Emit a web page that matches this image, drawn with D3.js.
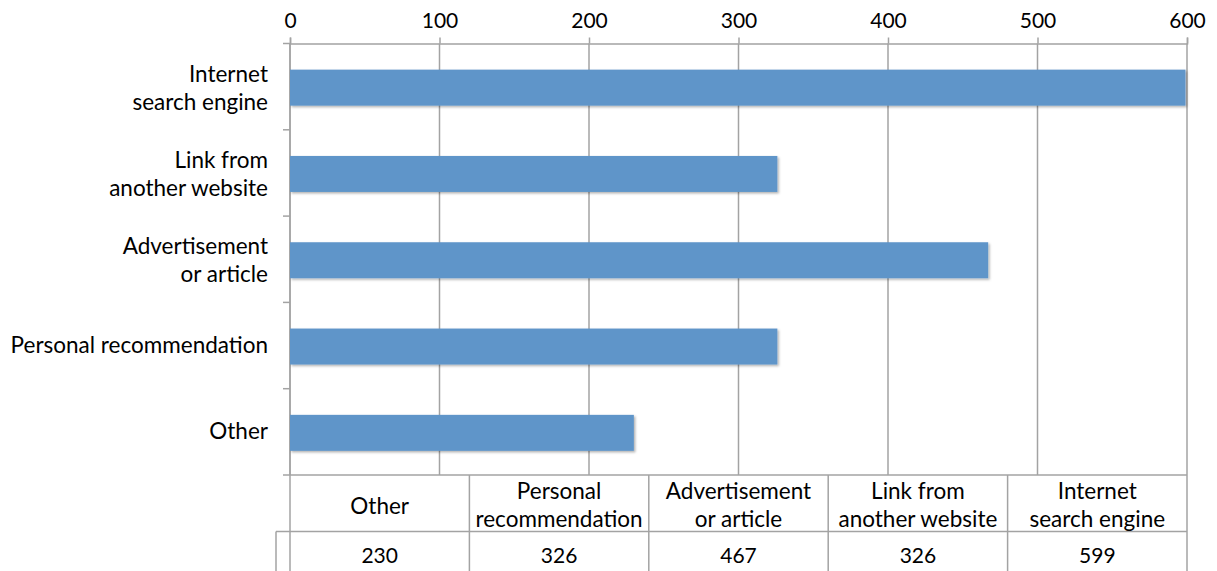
<!DOCTYPE html>
<html>
<head>
<meta charset="utf-8">
<script src="https://cdn.jsdelivr.net/npm/d3@7"></script>
<style>
  html, body { margin: 0; padding: 0; background: #fff; }
  svg { display: block; }
  text { font-family: Lato, "Open Sans", sans-serif; fill: #000; }
</style>
</head>
<body>
<svg id="chart" width="1217" height="571"></svg>
<script>
// Categories in data-table order (left to right); bars are drawn bottom to top.
const categories = ["Other", "Personal recommendation", "Advertisement or article", "Link from another website", "Internet search engine"];
const values = [230, 326, 467, 326, 599];
// Line breaks used for the axis labels and the table header.
const axisLabelLines = [["Other"], ["Personal recommendation"], ["Advertisement", "or article"], ["Link from", "another website"], ["Internet", "search engine"]];
const tableLabelLines = [["Other"], ["Personal", "recommendation"], ["Advertisement", "or article"], ["Link from", "another website"], ["Internet", "search engine"]];
const tickValues = [0, 100, 200, 300, 400, 500, 600];

const svg = d3.select("#chart");
const gridColor = "#a3a3a3";
const barColor = "#5f95c9";

const plotLeft = 290, plotRight = 1187, plotTop = 43.5, plotBottom = 475;
const numSize = 21;     // numbers on the axis and in the table
const labelSize = 22.5; // category names

const x = d3.scaleLinear().domain([0, 600]).range([plotLeft, plotRight]);
// Bars are listed top-down in reverse order of the table.
const y = d3.scaleBand().domain(categories.slice().reverse()).range([plotTop, plotBottom]);
const col = d3.scaleBand().domain(categories).range([plotLeft, plotRight]);

// Subtle drop shadow behind the bars
const defs = svg.append("defs");
const f = defs.append("filter").attr("id", "shadow").attr("x", "-5%").attr("y", "-20%").attr("width", "110%").attr("height", "150%");
f.append("feDropShadow").attr("dx", 1.5).attr("dy", 1.5).attr("stdDeviation", 1.2).attr("flood-color", "#000").attr("flood-opacity", 0.3);

// Vertical gridlines
svg.append("g").selectAll("line").data(tickValues).join("line")
  .attr("x1", d => x(d)).attr("x2", d => x(d))
  .attr("y1", plotTop).attr("y2", plotBottom)
  .attr("stroke", gridColor).attr("stroke-width", 1.5);

// Top value axis
const xAxis = svg.append("g").attr("transform", `translate(0,${plotTop})`)
  .call(d3.axisTop(x).tickValues(tickValues).tickSize(6).tickPadding(10).tickFormat(d3.format("d")));
xAxis.select(".domain").attr("stroke", gridColor).attr("stroke-width", 1.5);
xAxis.selectAll(".tick line").attr("stroke", gridColor).attr("stroke-width", 1.5);
xAxis.selectAll(".tick text").style("font-family", "Lato, 'Open Sans', sans-serif").attr("font-size", numSize).attr("fill", "#000");

// Left category axis line and boundary ticks
svg.append("line").attr("x1", plotLeft).attr("x2", plotLeft).attr("y1", plotTop).attr("y2", 571)
  .attr("stroke", gridColor).attr("stroke-width", 1.5);
const bounds = d3.range(categories.length + 1).map(i => plotTop + i * y.step());
svg.append("g").selectAll("line").data(bounds).join("line")
  .attr("x1", plotLeft - 7).attr("x2", plotLeft).attr("y1", d => d).attr("y2", d => d)
  .attr("stroke", gridColor).attr("stroke-width", 1.5);

// Bars
const barH = 36;
svg.append("g").selectAll("rect").data(categories).join("rect")
  .attr("x", x(0))
  .attr("y", d => y(d) + y.bandwidth() / 2 - barH / 2 + 1)
  .attr("width", (d, i) => x(values[i]) - x(0))
  .attr("height", barH)
  .attr("fill", barColor)
  .attr("filter", "url(#shadow)");

// Category labels
const lineH = 28;
svg.append("g").selectAll("text").data(categories).join("text")
  .attr("text-anchor", "end")
  .attr("font-size", labelSize)
  .attr("x", 268)
  .attr("y", d => y(d) + y.bandwidth() / 2)
  .each(function (d, i) {
    const lines = axisLabelLines[i];
    const t = d3.select(this);
    const y0 = +t.attr("y") - (lines.length - 1) * lineH / 2 + 7 + (lines.length > 1 ? 2 : 0);
    lines.forEach((ln, k) => t.append("tspan").attr("x", 268).attr("y", y0 + k * lineH).text(ln));
  });

// Data table below the plot
const rowTop = plotBottom, rowMid = 531.5, rowEnd = 571;
const table = svg.append("g");
table.append("line").attr("x1", plotLeft).attr("x2", plotRight).attr("y1", rowTop).attr("y2", rowTop)
  .attr("stroke", gridColor).attr("stroke-width", 1.5);
table.append("line").attr("x1", 276).attr("x2", plotRight).attr("y1", rowMid).attr("y2", rowMid)
  .attr("stroke", gridColor).attr("stroke-width", 1.5);
table.append("line").attr("x1", 276).attr("x2", 276).attr("y1", rowMid).attr("y2", rowEnd)
  .attr("stroke", gridColor).attr("stroke-width", 1.5);
table.selectAll(".colline").data(categories).join("line")
  .attr("class", "colline")
  .attr("x1", d => col(d) + col.bandwidth()).attr("x2", d => col(d) + col.bandwidth())
  .attr("y1", rowTop).attr("y2", rowEnd)
  .attr("stroke", gridColor).attr("stroke-width", 1.5);

table.selectAll(".hdr").data(categories).join("text")
  .attr("class", "hdr")
  .attr("text-anchor", "middle")
  .attr("font-size", labelSize)
  .each(function (d, i) {
    const lines = tableLabelLines[i];
    const t = d3.select(this);
    const cx = col(d) + col.bandwidth() / 2;
    const y0 = lines.length > 1 ? 499 : 514;
    lines.forEach((ln, k) => t.append("tspan").attr("x", cx).attr("y", y0 + k * lineH).text(ln));
  });

table.selectAll(".val").data(categories).join("text")
  .attr("class", "val")
  .attr("text-anchor", "middle")
  .attr("font-size", numSize)
  .attr("x", d => col(d) + col.bandwidth() / 2)
  .attr("y", 563)
  .text((d, i) => values[i]);
</script>
</body>
</html>
